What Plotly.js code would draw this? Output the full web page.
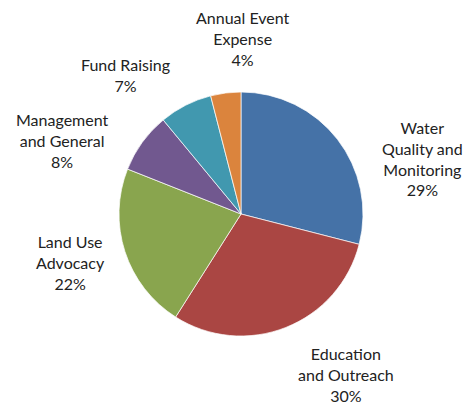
<!DOCTYPE html>
<html>
<head>
<meta charset="utf-8">
<script src="https://cdn.plot.ly/plotly-3.0.1.min.js"></script>
<style>html,body{margin:0;padding:0;background:#fff;}#chart{width:470px;height:405px;}</style>
</head>
<body>
<div id="chart"></div>
<script>
const categories = ["Water Quality and Monitoring", "Education and Outreach", "Land Use Advocacy", "Management and General", "Fund Raising", "Annual Event Expense"];
const labelLines = ["Water<br>Quality and<br>Monitoring", "Education<br>and Outreach", "Land Use<br>Advocacy", "Management<br>and General", "Fund Raising", "Annual Event<br>Expense"];
const values = [29, 30, 22, 8, 7, 4];
const colors = ["#4572A7", "#AA4643", "#89A54E", "#71588F", "#4198AF", "#DB843D"];

const W = 470, H = 405;
// label block centres (pixels) – layout only
const labelPos = [[422, 158], [346, 374], [70, 262], [62, 140], [125, 75], [243, 38]];
const total = values.reduce((a, b) => a + b, 0);

const annotations = categories.map((c, i) => ({
  x: labelPos[i][0] / W,
  y: 1 - labelPos[i][1] / H,
  xref: "paper", yref: "paper",
  xanchor: "center", yanchor: "middle",
  showarrow: false,
  align: "center",
  text: labelLines[i] + "<br>" + Math.round(values[i] / total * 100) + "%",
  font: {family: "Lato, 'Open Sans', sans-serif", size: 16, color: "#222"}
}));

const trace = {
  type: "pie",
  labels: categories,
  values: values,
  sort: false,
  direction: "clockwise",
  rotation: 0,
  marker: {colors: colors, line: {color: "rgba(255,255,255,0.7)", width: 1}},
  textinfo: "none",
  hoverinfo: "label+percent",
  domain: {x: [(241 - 122) / W, (241 + 122) / W], y: [1 - 336 / H, 1 - 92 / H]},
  showlegend: false
};

const layout = {
  width: W, height: H,
  margin: {l: 0, r: 0, t: 0, b: 0},
  paper_bgcolor: "#fff",
  annotations: annotations,
  showlegend: false
};

Plotly.newPlot("chart", [trace], layout, {displayModeBar: false, staticPlot: true});
</script>
</body>
</html>
